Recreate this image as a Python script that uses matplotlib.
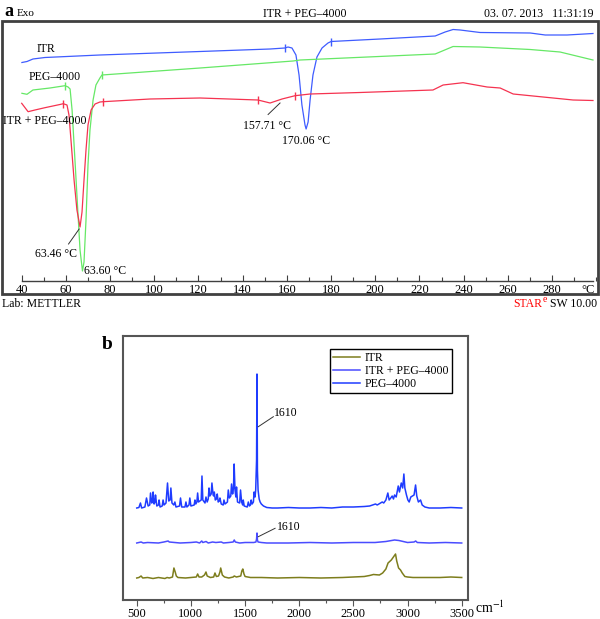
import matplotlib.pyplot as plt
from matplotlib.patches import Rectangle
from matplotlib.ticker import MultipleLocator

plt.rcParams['font.family'] = ['Liberation Serif', 'DejaVu Serif']
plt.rcParams['mathtext.fontset'] = 'stix'

# ---- panel a: DSC curves (temperature in degC, heat flow in arbitrary units) ----
itr_t = [40.1, 42.4, 45.1, 50.5, 75.4, 120.7, 152.4, 159.1, 160.5, 162.3, 164.1, 165.5, 166.8,
         168.2, 168.7, 169.6, 170.5, 171.8, 173.6, 175.9, 178.6, 180.0, 202.2, 227.1, 231.6,
         235.2, 238.4, 247.4, 270.1, 276.9, 286.8, 298.5]
itr_hf = [218.5, 219.5, 222, 223.5, 226, 229.5, 232, 233, 234, 233, 226, 206, 176,
          156, 152, 159, 181, 206, 224, 233, 238, 239.5, 242, 245, 249,
          251.5, 251, 248.5, 248, 246, 246, 247.5]

peg_t = [40.1, 42.4, 45.1, 52.8, 59.6, 61.0, 61.9, 62.8, 64.1, 65.5, 66.4, 67.5, 68.2, 69.1,
         70.0, 70.9, 72.3, 73.6, 75.4, 76.3, 120.7, 162.8, 166.0, 227.1, 235.2, 247.4,
         270.1, 283.6, 298.5]
peg_hf = [187.7, 186.7, 191, 193, 195.3, 194, 192, 171, 121, 66, 31, 10, 19, 61,
          116, 151, 181, 196, 203, 206, 213, 220, 221, 227, 234.5, 234,
          231.5, 229, 221]

mix_t = [40.0, 42.9, 46.0, 50.5, 57.3, 58.8, 60.5, 61.4, 62.3, 63.7, 65.0, 66.4, 67.3, 68.2,
         69.1, 70.0, 71.4, 73.2, 75.4, 76.8, 98.1, 120.7, 146.9, 152.4, 157.8, 163.7, 170.5,
         193.1, 226.1, 230.7, 239.7, 250.6, 256.5, 262.4, 271.4, 289.5, 298.5]
mix_hf = [177.7, 169.3, 171, 173.3, 176.5, 177.3, 176, 166, 141, 101, 71, 54, 69, 101,
          131, 156, 171, 177, 179, 179.3, 182, 183, 181, 178, 182, 185.3, 187,
          188.5, 191, 196, 198.3, 194, 193, 187, 185, 181, 180.5]

# integration limits marked on the curves
itr_marks = [(159.1, 233), (180.0, 239.5)]
peg_marks = [(59.6, 195.3), (76.3, 206)]
mix_marks = [(58.8, 177.3), (76.8, 179.3), (146.9, 181), (163.7, 185.3)]

dsc_ticks = list(range(40, 281, 20))

# ---- panel b: Raman spectra (wavenumber in cm-1, intensity in arbitrary units, offset) ----
peg_wn = [500, 520, 534, 545, 575, 590, 605, 620, 627, 638, 645, 651, 660, 668, 673, 685, 700,
          706, 715, 735, 743, 752, 770, 784, 795, 808, 815, 825, 842, 852, 862, 895, 904, 915,
          945, 954, 963, 982, 990, 1000, 1030, 1037, 1045, 1055, 1062, 1070, 1095, 1102, 1110,
          1130, 1139, 1150, 1160, 1167, 1175, 1187, 1194, 1205, 1210, 1216, 1225, 1235, 1243,
          1252, 1262, 1268, 1280, 1298, 1305, 1315, 1337, 1345, 1355, 1368, 1375, 1385, 1393,
          1399, 1407, 1415, 1421, 1430, 1450, 1458, 1468, 1478, 1483, 1492, 1520, 1530, 1540,
          1550, 1556, 1565, 1577, 1583, 1592, 1598, 1602, 1606, 1610, 1614, 1620, 1630, 1639,
          1650, 1670, 1700, 1750, 1800, 1900, 2000, 2100, 2200, 2300, 2400, 2500, 2600, 2650,
          2704, 2720, 2766, 2780, 2800, 2818, 2830, 2845, 2858, 2870, 2880, 2895, 2914, 2925,
          2942, 2955, 2966, 2975, 2990, 3003, 3015, 3030, 3060, 3074, 3085, 3100, 3120, 3135,
          3160, 3200, 3300, 3400, 3500]
peg_int = [92, 92.5, 97, 92, 93, 102, 94, 95, 107, 97, 98, 108, 96, 98, 105, 94, 95,
           100, 93, 94, 100, 95, 97, 117, 99, 100, 112, 97, 95, 98, 93, 94, 102, 93,
           93, 98, 93, 95, 102, 94, 95, 100, 96, 98, 107, 98, 100, 124, 100,
           97, 103, 98, 101, 112, 104, 106, 117, 105, 104, 108, 100, 101, 106,
           98, 99, 102, 96, 95, 100, 96, 98, 110, 102, 104, 116, 106, 112,
           136, 110, 103, 113, 98, 97, 110, 98, 95, 100, 94, 93, 98, 94,
           95, 100, 96, 98, 108, 103, 110, 127, 140, 226, 130, 110, 101, 98,
           96, 94, 92.5, 92, 92, 92.5, 92, 92, 92.5, 92, 93, 93, 93.5, 94,
           96, 95, 98, 97, 100, 107, 100, 102, 104, 101, 105, 103, 114, 108,
           117, 112, 126, 112, 105, 100, 98, 103, 105, 115, 104, 98, 100, 95,
           93, 92, 92, 92.5, 92]

mix_wn = [500, 540, 560, 600, 700, 750, 790, 800, 850, 900, 1000, 1050, 1080, 1100, 1110, 1140,
          1160, 1200, 1230, 1280, 1300, 1350, 1390, 1400, 1410, 1450, 1500, 1580, 1600, 1606,
          1610, 1614, 1620, 1650, 1700, 1900, 2100, 2300, 2500, 2600, 2700, 2800, 2880, 2920,
          2960, 3000, 3060, 3075, 3090, 3200, 3350, 3500]
mix_int = [57, 58, 57, 57.5, 57, 58, 59, 58, 57.5, 57, 57.5, 58, 57, 59, 57.5, 58.5,
           57, 58, 57.5, 58, 57, 57.5, 58, 60, 58, 57, 57.5, 57.5, 58, 61,
           67, 60, 58, 57.5, 57, 57, 57.5, 57, 57.5, 57.5, 57.5, 58.5, 60, 59.5,
           58.5, 57.5, 58, 59, 57.5, 57, 57.5, 57]

itr_wn = [500, 520, 540, 555, 600, 650, 700, 760, 780, 800, 830, 843, 855, 865, 880, 950, 1000,
          1050, 1062, 1075, 1100, 1125, 1139, 1150, 1180, 1210, 1222, 1235, 1255, 1268, 1275,
          1290, 1310, 1350, 1390, 1400, 1420, 1460, 1470, 1479, 1490, 1500, 1550, 1650, 1800,
          2000, 2200, 2400, 2500, 2600, 2650, 2685, 2740, 2770, 2800, 2820, 2850, 2889, 2900,
          2917, 2935, 2951, 2975, 3000, 3050, 3150, 3300, 3400, 3500]
itr_int = [22, 22.5, 24, 22, 22.5, 21.5, 22.5, 21.5, 22.5, 22, 23, 32, 28, 24, 22.5, 22, 22.5,
           23, 26, 23, 23, 25, 28, 24, 22.5, 23, 27, 23.5, 24, 28, 32,
           25, 23, 22, 23, 24, 23, 24, 29, 31, 26, 23.5, 22.5, 22.5, 22,
           22.5, 22, 22.5, 23, 23.5, 24.5, 25.5, 25, 27, 31, 37, 40, 46, 39,
           32, 30, 27, 23.5, 23, 22.5, 22.5, 22.5, 23, 22.5]

raman_ticks = [500, 1000, 1500, 2000, 2500, 3000, 3500]

blue = '#3f5cff'
green = '#66e866'
red = '#f53350'
frame = '#404040'

fig = plt.figure(figsize=(6, 6.19), dpi=100)

# ================= panel a =================
ax = fig.add_axes([2 / 600, 1 - 294 / 619, 595.5 / 600, 273 / 619])
ax.set_xlim(31.09, 300.55)
ax.set_ylim(-13, 260)

ax.plot(itr_t, itr_hf, color=blue, lw=0.9)
ax.plot(peg_t, peg_hf, color=green, lw=0.9)
ax.plot(mix_t, mix_hf, color=red, lw=0.9)
for marks, c in [(itr_marks, blue), (peg_marks, green), (mix_marks, red)]:
    ax.plot([m[0] for m in marks], [m[1] for m in marks], ls='none', marker='|',
            ms=6, mew=1.0, color=c)

ax.text(46.6, 232, 'ITR', fontsize=8.5, va='center')
ax.text(43.3, 204, 'PEG–4000', fontsize=8.5, va='center')
ax.text(31.5, 160.3, 'ITR + PEG–4000', fontsize=8.5, va='center')

# peak labels with leader lines
ax.plot([156.9, 151.5], [178, 166.5], color='#333333', lw=0.7)
ax.text(151, 155, '157.71 °C', fontsize=8.5, ha='center', va='center')
ax.text(168.7, 140, '170.06 °C', fontsize=8.5, ha='center', va='center')
ax.plot([66.0, 61.2], [52, 37], color='#333333', lw=0.7)
ax.text(55.3, 27, '63.46 °C', fontsize=8.5, ha='center', va='center')
ax.text(68.4, 10, '63.60 °C', fontsize=8.5, ha='left', va='center')

for s in ['left', 'right', 'top']:
    ax.spines[s].set_visible(False)
ax.spines['bottom'].set_position(('data', 0))
ax.spines['bottom'].set_bounds(40, 298.5)
ax.spines['bottom'].set_color(frame)
ax.spines['bottom'].set_linewidth(1.0)
ax.set_xticks(dsc_ticks)
ax.xaxis.set_minor_locator(MultipleLocator(10))
ax.tick_params(axis='x', which='major', direction='in', length=4, width=0.8,
               colors=frame, labelcolor='black', labelsize=9, pad=2)
ax.tick_params(axis='x', which='minor', direction='in', length=3, width=0.8, colors=frame)
ax.set_yticks([])
ax.text(296.5, -3, '°C', fontsize=9, ha='center', va='top')
ax.add_patch(Rectangle((0, 0), 1, 1, transform=ax.transAxes, fill=False,
                       edgecolor=frame, lw=2, clip_on=False))

# header and footer of the instrument printout
fig.text(4 / 600, 1 - 12 / 619, 'a', fontsize=13, fontweight='bold', va='center')
fig.text(17 / 600, 1 - 14 / 619, 'Exo', fontsize=8, va='center')
fig.text(305 / 600, 1 - 14 / 619, 'ITR + PEG–4000', fontsize=8.5, ha='center', va='center')
fig.text(593 / 600, 1 - 14 / 619, '03. 07. 2013   11:31:19', fontsize=8.5, ha='right', va='center')
fig.text(2 / 600, 1 - 304 / 619, 'Lab: METTLER', fontsize=8.5, va='center')
sw = fig.text(597 / 600, 1 - 304 / 619, ' SW 10.00', fontsize=8.5, ha='right', va='center')
sup = ax.annotate('e', xy=(0, 0.5), xycoords=sw, fontsize=7, color='red',
                  ha='right', va='bottom', annotation_clip=False)
ax.annotate('STAR', xy=(0, 0), xycoords=sup, fontsize=8.5, color='red',
            ha='right', va='center', annotation_clip=False)

# ================= panel b =================
bx = fig.add_axes([123 / 600, 1 - 600 / 619, 345 / 600, 264 / 619])
bx.set_xlim(373, 3558)
bx.set_ylim(0, 264)
bx.plot(itr_wn, itr_int, color='#7d7d1c', lw=1.1, label='ITR')
bx.plot(mix_wn, mix_int, color='#4a4cff', lw=1.1, label='ITR + PEG–4000')
bx.plot(peg_wn, peg_int, color='#1f3cff', lw=1.1, label='PEG–4000')

bx.plot([1622, 1761], [173.3, 183.3], color='#333333', lw=0.7)
bx.text(1767, 187, '1610', fontsize=8.5, va='center')
bx.plot([1622, 1777], [63.3, 71.7], color='#333333', lw=0.7)
bx.text(1792, 73.3, '1610', fontsize=8.5, va='center')

leg = bx.legend(loc='upper right', bbox_to_anchor=(0.954, 0.951), borderaxespad=0,
                fontsize=8.5, fancybox=False, edgecolor='black', framealpha=1,
                handlelength=2.3, handletextpad=0.4, labelspacing=0.05, borderpad=0.3)
leg.get_frame().set_linewidth(1.0)

for s in bx.spines.values():
    s.set_color('#555555')
    s.set_linewidth(1.5)
bx.set_yticks([])
bx.set_xticks(raman_ticks)
bx.xaxis.set_minor_locator(MultipleLocator(250))
bx.tick_params(axis='x', which='major', direction='out', length=4, width=0.8,
               colors='#555555', labelcolor='black', labelsize=9, pad=2)
bx.tick_params(axis='x', which='minor', direction='out', length=2.5, width=0.8, colors='#555555')
bx.text(1.02, -0.03, 'cm$^{-1}$', transform=bx.transAxes, fontsize=10, va='center', ha='left')
bx.text(-0.045, 0.966, 'b', transform=bx.transAxes, fontsize=14, fontweight='bold',
        ha='center', va='center')

fig.savefig('out.png', dpi=100)
